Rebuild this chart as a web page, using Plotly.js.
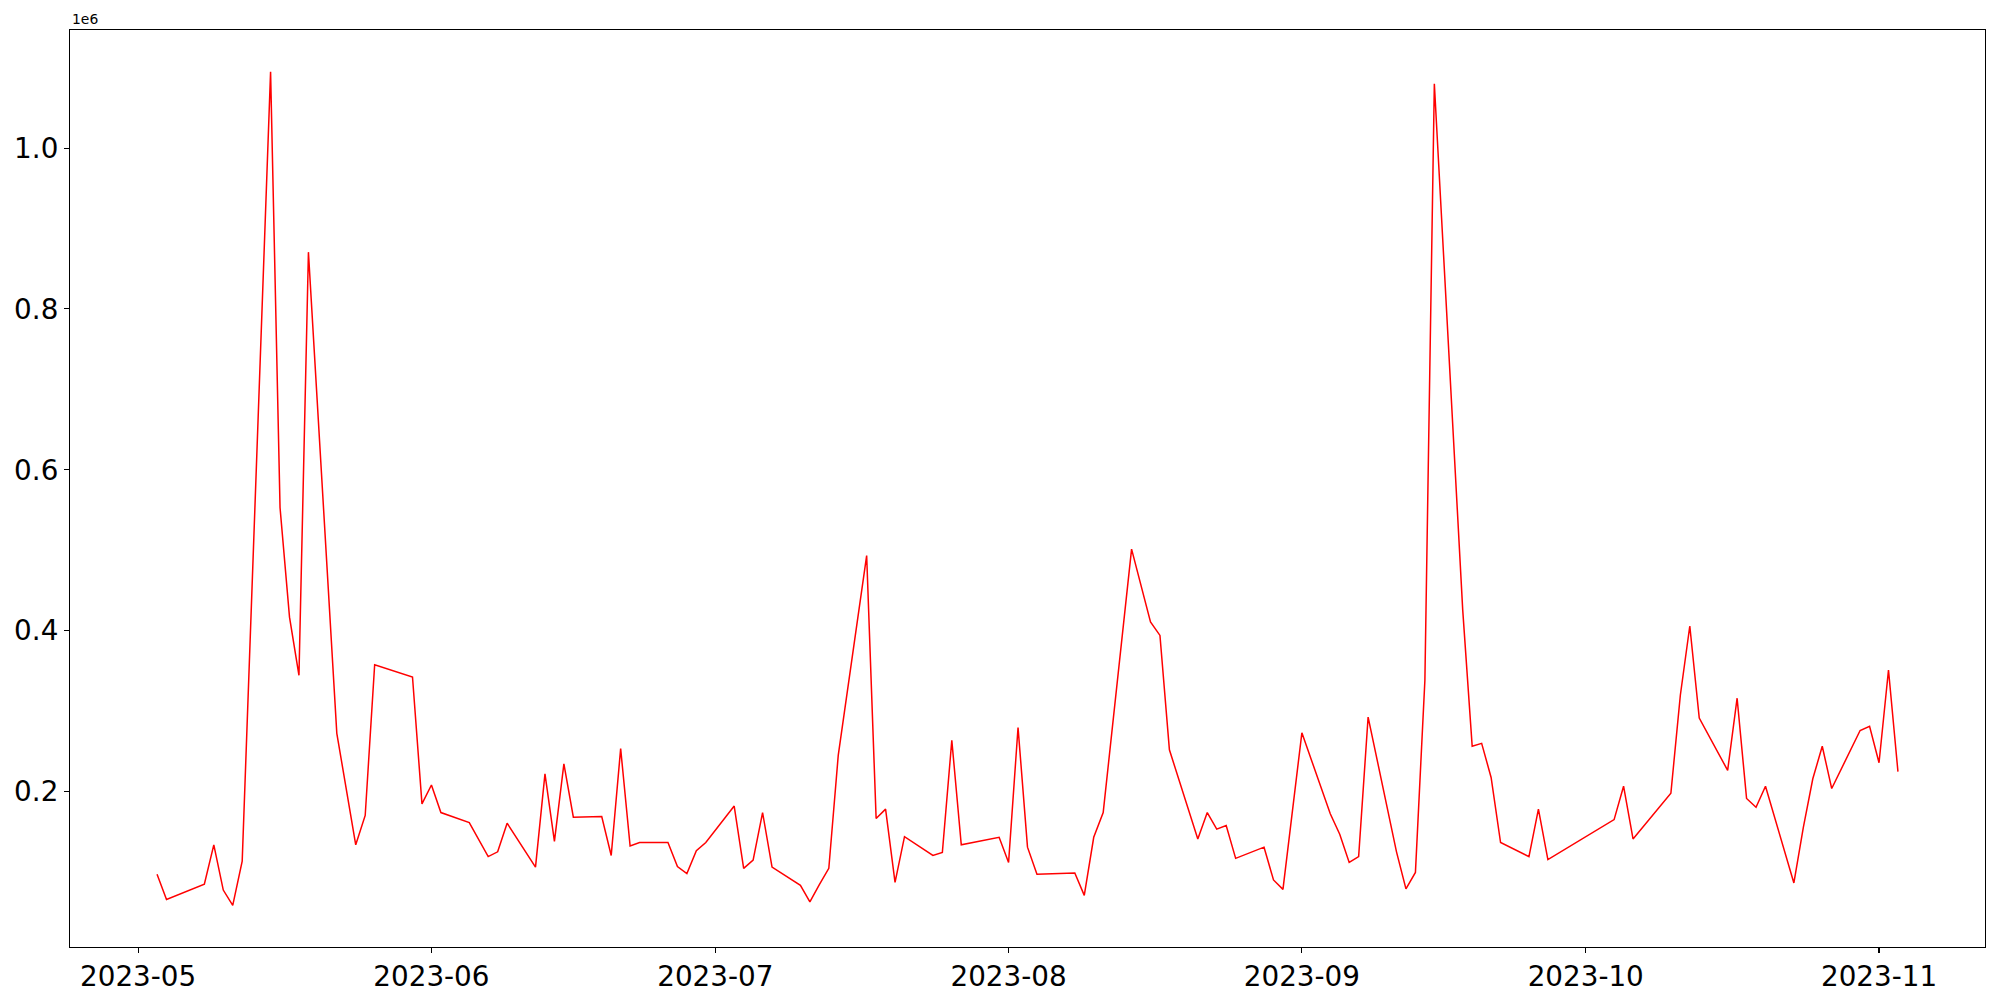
<!DOCTYPE html>
<html>
<head>
<meta charset="utf-8">
<script src="https://cdn.plot.ly/plotly-3.0.1.min.js"></script>
<style>html,body{margin:0;padding:0;background:#fff;}#chart{width:2000px;height:1000px;}</style>
</head>
<body>
<div id="chart"></div>
<script>
const dates = [
"2023-05-03","2023-05-04","2023-05-08","2023-05-09","2023-05-10","2023-05-11","2023-05-12","2023-05-15","2023-05-16","2023-05-17","2023-05-18","2023-05-19","2023-05-22","2023-05-24","2023-05-25","2023-05-26","2023-05-30","2023-05-31",
"2023-06-01","2023-06-02","2023-06-05","2023-06-07","2023-06-08","2023-06-09","2023-06-12","2023-06-13","2023-06-14","2023-06-15","2023-06-16","2023-06-19","2023-06-20","2023-06-21","2023-06-22","2023-06-23","2023-06-26","2023-06-27","2023-06-28","2023-06-29","2023-06-30",
"2023-07-03","2023-07-04","2023-07-05","2023-07-06","2023-07-07","2023-07-10","2023-07-11","2023-07-12","2023-07-13","2023-07-14","2023-07-17","2023-07-18","2023-07-19","2023-07-20","2023-07-21","2023-07-24","2023-07-25","2023-07-26","2023-07-27","2023-07-31",
"2023-08-01","2023-08-02","2023-08-03","2023-08-04","2023-08-08","2023-08-09","2023-08-10","2023-08-11","2023-08-14","2023-08-16","2023-08-17","2023-08-18","2023-08-21","2023-08-22","2023-08-23","2023-08-24","2023-08-25","2023-08-28","2023-08-29","2023-08-30",
"2023-09-01","2023-09-04","2023-09-05","2023-09-06","2023-09-07","2023-09-08","2023-09-11","2023-09-12","2023-09-13","2023-09-14","2023-09-15","2023-09-18","2023-09-19","2023-09-20","2023-09-21","2023-09-22","2023-09-25","2023-09-26","2023-09-27",
"2023-10-04","2023-10-05","2023-10-06","2023-10-10","2023-10-11","2023-10-12","2023-10-13","2023-10-16","2023-10-17","2023-10-18","2023-10-19","2023-10-20","2023-10-23","2023-10-24","2023-10-25","2023-10-26","2023-10-27","2023-10-30","2023-10-31","2023-11-01","2023-11-02","2023-11-03"
];
const values = [
97100,65800,84800,133700,77500,58500,113300,1095000,553000,416800,344500,870600,272300,133700,170200,357600,342300,184700,
208100,173800,161400,119100,125000,160600,106000,222000,138000,234400,168100,168900,120500,253300,132200,136600,136600,106700,97900,126400,136600,
181900,104500,114700,173800,106000,83400,62900,84100,104500,245300,493400,166500,178100,87000,143900,120500,124200,263600,133700,143100,
111800,279600,130800,97000,98600,70900,143100,173800,501400,410900,394100,251800,141000,173800,153200,157800,116900,130800,90000,78300,
273000,172300,146800,111800,119100,292600,125000,79000,99400,338000,1080000,425500,256300,259900,217500,136600,119100,178100,115400,
165100,206600,141000,197800,319700,405800,291300,226300,316000,191300,180400,206600,86300,155500,215800,256300,203700,275900,281100,235800,351100,224800
];
const xTickVals = ["2023-05-01","2023-06-01","2023-07-01","2023-08-01","2023-09-01","2023-10-01","2023-11-01"];
const xTickText = ["2023-05","2023-06","2023-07","2023-08","2023-09","2023-10","2023-11"];
const yTickVals = [200000,400000,600000,800000,1000000];
const yTickText = ["0.2","0.4","0.6","0.8","1.0"];
const offsetText = "1e6";

// matplotlib-like autoscale with 5% margins
const tms = dates.map(d => Date.parse(d + "T00:00:00Z"));
const tMin = Math.min(...tms), tMax = Math.max(...tms);
const tPad = (tMax - tMin) * 0.05;
const fmt = t => new Date(t).toISOString().replace("T"," ").replace("Z","");
const vMin = Math.min(...values), vMax = Math.max(...values);
const vPad = (vMax - vMin) * 0.05;

const tickFont = {family: "DejaVu Sans", size: 27.8, color: "#000"};
const axisCommon = {
  showgrid: false, zeroline: false, showline: true, mirror: true,
  linecolor: "#000", linewidth: 1.1, ticks: "outside", ticklen: 5,
  tickwidth: 1.1, tickcolor: "#000", tickfont: tickFont, tickmode: "array"
};

const trace = {
  x: dates, y: values, type: "scatter", mode: "lines",
  line: {color: "#ff0000", width: 1.5}, hoverinfo: "skip"
};

const layout = {
  width: 2000, height: 1000,
  margin: {l: 70, r: 15, t: 30, b: 53, pad: 0},
  paper_bgcolor: "#fff", plot_bgcolor: "#fff",
  showlegend: false,
  xaxis: Object.assign({}, axisCommon, {
    type: "date", range: [fmt(tMin - tPad), fmt(tMax + tPad)],
    tickvals: xTickVals, ticktext: xTickText
  }),
  yaxis: Object.assign({}, axisCommon, {
    range: [vMin - vPad, vMax + vPad],
    tickvals: yTickVals, ticktext: yTickText
  }),
  annotations: [{
    text: offsetText, xref: "paper", yref: "paper", x: 0, y: 1,
    xanchor: "left", yanchor: "bottom", yshift: 1, showarrow: false,
    font: {family: "DejaVu Sans", size: 13.9, color: "#000"}
  }]
};

Plotly.newPlot("chart", [trace], layout, {staticPlot: true, displayModeBar: false});
</script>
</body>
</html>
